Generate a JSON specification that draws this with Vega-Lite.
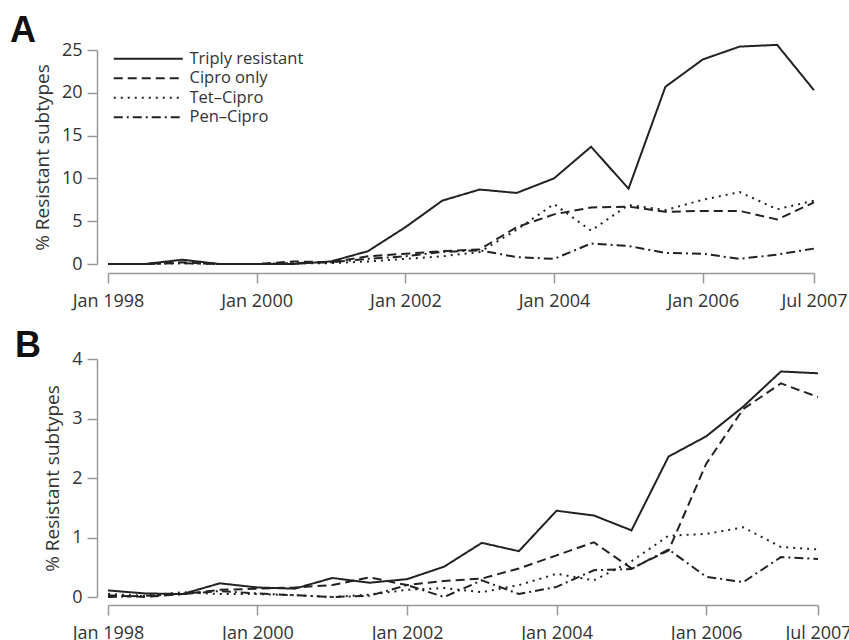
{
  "$schema": "https://vega.github.io/schema/vega-lite/v6.json",
  "autosize": {"type": "pad"},
  "padding": {"left": 10, "top": 12, "right": 0, "bottom": 0},
  "background": "white",
  "config": {
    "font": "Open Sans",
    "view": {"stroke": null},
    "axis": {
      "domainColor": "#999999",
      "tickColor": "#999999",
      "domainWidth": 1.5,
      "tickWidth": 1.5,
      "tickSize": 10,
      "grid": false,
      "labelColor": "#333333",
      "labelFont": "Open Sans",
      "labelFontSize": 18,
      "labelOverlap": false,
      "labelFlush": false,
      "labelBound": false,
      "titleFont": "Open Sans",
      "titleFontSize": 19,
      "titleFontWeight": "normal",
      "titleColor": "#333333"
    },
    "title": {
      "font": "Liberation Sans",
      "fontSize": 36,
      "fontWeight": 900,
      "color": "#111111",
      "anchor": "start",
      "frame": "group",
      "baseline": "alphabetic"
    }
  },
  "datasets": {
    "resistance": [
      {"panel": "A", "date": "1998/01/01", "Triply resistant": 0, "Cipro only": 0, "Tet–Cipro": 0, "Pen–Cipro": 0},
      {"panel": "A", "date": "1998/07/01", "Triply resistant": 0, "Cipro only": 0, "Tet–Cipro": 0, "Pen–Cipro": 0},
      {"panel": "A", "date": "1999/01/01", "Triply resistant": 0.5, "Cipro only": 0.2, "Tet–Cipro": 0.1, "Pen–Cipro": 0.1},
      {"panel": "A", "date": "1999/07/01", "Triply resistant": 0, "Cipro only": 0, "Tet–Cipro": 0, "Pen–Cipro": 0},
      {"panel": "A", "date": "2000/01/01", "Triply resistant": 0, "Cipro only": 0, "Tet–Cipro": 0, "Pen–Cipro": 0},
      {"panel": "A", "date": "2000/07/01", "Triply resistant": 0, "Cipro only": 0.3, "Tet–Cipro": 0.1, "Pen–Cipro": 0.1},
      {"panel": "A", "date": "2001/01/01", "Triply resistant": 0.3, "Cipro only": 0.2, "Tet–Cipro": 0.1, "Pen–Cipro": 0.2},
      {"panel": "A", "date": "2001/07/01", "Triply resistant": 1.5, "Cipro only": 0.9, "Tet–Cipro": 0.3, "Pen–Cipro": 0.6},
      {"panel": "A", "date": "2002/01/01", "Triply resistant": 4.3, "Cipro only": 1.2, "Tet–Cipro": 0.6, "Pen–Cipro": 0.9},
      {"panel": "A", "date": "2002/07/01", "Triply resistant": 7.4, "Cipro only": 1.5, "Tet–Cipro": 0.9, "Pen–Cipro": 1.4},
      {"panel": "A", "date": "2003/01/01", "Triply resistant": 8.7, "Cipro only": 1.7, "Tet–Cipro": 1.4, "Pen–Cipro": 1.6},
      {"panel": "A", "date": "2003/07/01", "Triply resistant": 8.3, "Cipro only": 4.3, "Tet–Cipro": 4.0, "Pen–Cipro": 0.8},
      {"panel": "A", "date": "2004/01/01", "Triply resistant": 10.0, "Cipro only": 5.8, "Tet–Cipro": 7.0, "Pen–Cipro": 0.6},
      {"panel": "A", "date": "2004/07/01", "Triply resistant": 13.7, "Cipro only": 6.6, "Tet–Cipro": 3.9, "Pen–Cipro": 2.4},
      {"panel": "A", "date": "2005/01/01", "Triply resistant": 8.8, "Cipro only": 6.7, "Tet–Cipro": 6.9, "Pen–Cipro": 2.1},
      {"panel": "A", "date": "2005/07/01", "Triply resistant": 20.7, "Cipro only": 6.1, "Tet–Cipro": 6.3, "Pen–Cipro": 1.3},
      {"panel": "A", "date": "2006/01/01", "Triply resistant": 23.9, "Cipro only": 6.2, "Tet–Cipro": 7.5, "Pen–Cipro": 1.2},
      {"panel": "A", "date": "2006/07/01", "Triply resistant": 25.4, "Cipro only": 6.2, "Tet–Cipro": 8.4, "Pen–Cipro": 0.6},
      {"panel": "A", "date": "2007/01/01", "Triply resistant": 25.6, "Cipro only": 5.2, "Tet–Cipro": 6.4, "Pen–Cipro": 1.1},
      {"panel": "A", "date": "2007/07/01", "Triply resistant": 20.3, "Cipro only": 7.2, "Tet–Cipro": 7.4, "Pen–Cipro": 1.8},
      {"panel": "B", "date": "1998/01/01", "Triply resistant": 0.11, "Cipro only": 0.03, "Tet–Cipro": 0.05, "Pen–Cipro": 0.0},
      {"panel": "B", "date": "1998/07/01", "Triply resistant": 0.06, "Cipro only": 0.0, "Tet–Cipro": 0.02, "Pen–Cipro": 0.02},
      {"panel": "B", "date": "1999/01/01", "Triply resistant": 0.05, "Cipro only": 0.05, "Tet–Cipro": 0.08, "Pen–Cipro": 0.05},
      {"panel": "B", "date": "1999/07/01", "Triply resistant": 0.23, "Cipro only": 0.12, "Tet–Cipro": 0.05, "Pen–Cipro": 0.1},
      {"panel": "B", "date": "2000/01/01", "Triply resistant": 0.16, "Cipro only": 0.14, "Tet–Cipro": 0.05, "Pen–Cipro": 0.06},
      {"panel": "B", "date": "2000/07/01", "Triply resistant": 0.14, "Cipro only": 0.16, "Tet–Cipro": 0.03, "Pen–Cipro": 0.03},
      {"panel": "B", "date": "2001/01/01", "Triply resistant": 0.32, "Cipro only": 0.2, "Tet–Cipro": 0.0, "Pen–Cipro": 0.0},
      {"panel": "B", "date": "2001/07/01", "Triply resistant": 0.24, "Cipro only": 0.33, "Tet–Cipro": 0.04, "Pen–Cipro": 0.02},
      {"panel": "B", "date": "2002/01/01", "Triply resistant": 0.3, "Cipro only": 0.2, "Tet–Cipro": 0.12, "Pen–Cipro": 0.2},
      {"panel": "B", "date": "2002/07/01", "Triply resistant": 0.51, "Cipro only": 0.27, "Tet–Cipro": 0.15, "Pen–Cipro": 0.0},
      {"panel": "B", "date": "2003/01/01", "Triply resistant": 0.91, "Cipro only": 0.31, "Tet–Cipro": 0.08, "Pen–Cipro": 0.28},
      {"panel": "B", "date": "2003/07/01", "Triply resistant": 0.77, "Cipro only": 0.48, "Tet–Cipro": 0.2, "Pen–Cipro": 0.05},
      {"panel": "B", "date": "2004/01/01", "Triply resistant": 1.45, "Cipro only": 0.7, "Tet–Cipro": 0.39, "Pen–Cipro": 0.17},
      {"panel": "B", "date": "2004/07/01", "Triply resistant": 1.37, "Cipro only": 0.92, "Tet–Cipro": 0.28, "Pen–Cipro": 0.45},
      {"panel": "B", "date": "2005/01/01", "Triply resistant": 1.12, "Cipro only": 0.48, "Tet–Cipro": 0.6, "Pen–Cipro": 0.47},
      {"panel": "B", "date": "2005/07/01", "Triply resistant": 2.36, "Cipro only": 0.78, "Tet–Cipro": 1.03, "Pen–Cipro": 0.8},
      {"panel": "B", "date": "2006/01/01", "Triply resistant": 2.7, "Cipro only": 2.24, "Tet–Cipro": 1.06, "Pen–Cipro": 0.34},
      {"panel": "B", "date": "2006/07/01", "Triply resistant": 3.2, "Cipro only": 3.16, "Tet–Cipro": 1.17, "Pen–Cipro": 0.25},
      {"panel": "B", "date": "2007/01/01", "Triply resistant": 3.79, "Cipro only": 3.59, "Tet–Cipro": 0.84, "Pen–Cipro": 0.67},
      {"panel": "B", "date": "2007/07/01", "Triply resistant": 3.76, "Cipro only": 3.36, "Tet–Cipro": 0.8, "Pen–Cipro": 0.64}
    ]
  },
  "data": {"name": "resistance"},
  "transform": [
    {"fold": ["Triply resistant", "Cipro only", "Tet–Cipro", "Pen–Cipro"], "as": ["series", "value"]}
  ],
  "vconcat": [
    {
      "title": {"text": "A", "dx": -98, "offset": -9},
      "width": 706,
      "height": 214,
      "transform": [{"filter": "datum.panel === 'A'"}],
      "mark": {"type": "line", "stroke": "#222222", "strokeWidth": 2},
      "encoding": {
        "x": {
          "field": "date",
          "type": "temporal",
          "scale": {"domain": [{"year": 1998, "month": 1, "date": 1}, {"year": 2007, "month": 7, "date": 1}]},
          "axis": {
            "title": null,
            "offset": 9,
            "format": "%b %Y",
            "labelPadding": 9,
            "values": [
              {"year": 1998, "month": 1, "date": 1},
              {"year": 2000, "month": 1, "date": 1},
              {"year": 2002, "month": 1, "date": 1},
              {"year": 2004, "month": 1, "date": 1},
              {"year": 2006, "month": 1, "date": 1},
              {"year": 2007, "month": 7, "date": 1}
            ]
          }
        },
        "y": {
          "field": "value",
          "type": "quantitative",
          "scale": {"domain": [0, 25], "nice": false},
          "axis": {"title": "% Resistant subtypes", "offset": 11, "values": [0, 5, 10, 15, 20, 25], "labelPadding": 5, "titlePadding": 9}
        },
        "strokeDash": {
          "field": "series",
          "type": "nominal",
          "sort": ["Triply resistant", "Cipro only", "Tet–Cipro", "Pen–Cipro"],
          "scale": {
            "domain": ["Triply resistant", "Cipro only", "Tet–Cipro", "Pen–Cipro"],
            "range": [[1, 0], [9, 5], [2, 5], [9, 4, 2, 4]]
          },
          "legend": {
            "title": null,
            "orient": "none",
            "legendX": 32,
            "legendY": 0.5,
            "symbolType": "M-6.9,0H6.9",
            "symbolSize": 100,
            "symbolStrokeWidth": 2.2,
            "symbolStrokeColor": "#222222",
            "labelFontSize": 16.5,
            "labelColor": "#333333",
            "labelFont": "Open Sans",
            "labelOffset": 33,
            "rowPadding": 2.5,
            "padding": 0
          }
        }
      }
    },
    {
      "title": {"text": "B", "dx": -93, "offset": -15},
      "width": 710,
      "height": 238,
      "transform": [{"filter": "datum.panel === 'B'"}],
      "mark": {"type": "line", "stroke": "#222222", "strokeWidth": 2},
      "encoding": {
        "x": {
          "field": "date",
          "type": "temporal",
          "scale": {"domain": [{"year": 1998, "month": 1, "date": 1}, {"year": 2007, "month": 7, "date": 1}]},
          "axis": {
            "title": null,
            "offset": 8,
            "format": "%b %Y",
            "labelPadding": 9,
            "values": [
              {"year": 1998, "month": 1, "date": 1},
              {"year": 2000, "month": 1, "date": 1},
              {"year": 2002, "month": 1, "date": 1},
              {"year": 2004, "month": 1, "date": 1},
              {"year": 2006, "month": 1, "date": 1},
              {"year": 2007, "month": 7, "date": 1}
            ]
          }
        },
        "y": {
          "field": "value",
          "type": "quantitative",
          "scale": {"domain": [0, 4], "nice": false},
          "axis": {"title": "% Resistant subtypes", "offset": 11, "values": [0, 1, 2, 3, 4], "labelPadding": 5, "titlePadding": 9}
        },
        "strokeDash": {
          "field": "series",
          "type": "nominal",
          "scale": {
            "domain": ["Triply resistant", "Cipro only", "Tet–Cipro", "Pen–Cipro"],
            "range": [[1, 0], [9, 5], [2, 5], [9, 4, 2, 4]]
          },
          "legend": null
        }
      }
    }
  ],
  "spacing": 95,
  "bounds": "flush",
  "resolve": {"scale": {"x": "independent", "y": "independent", "strokeDash": "independent"}, "legend": {"strokeDash": "independent"}}
}
